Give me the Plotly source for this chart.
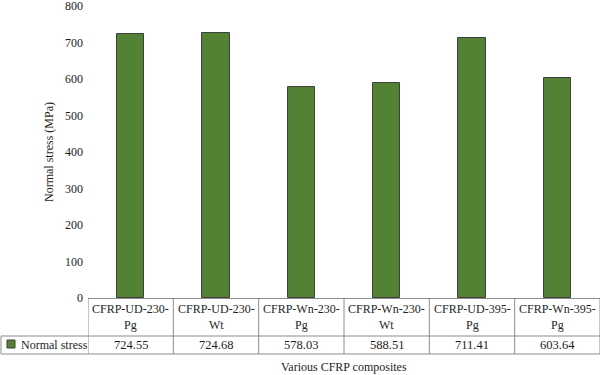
import plotly.graph_objects as go

categories = ["CFRP-UD-230-Pg", "CFRP-UD-230-Wt", "CFRP-Wn-230-Pg",
              "CFRP-Wn-230-Wt", "CFRP-UD-395-Pg", "CFRP-Wn-395-Pg"]
normal_stress = [724.55, 724.68, 578.03, 588.51, 711.41, 603.64]
series_name = "Normal stress"
y_ticks = [0, 100, 200, 300, 400, 500, 600, 700, 800]

W, H = 600, 375
ML, MR, MT, MB = 88, 0, 6, 77
PH = H - MT - MB  # plot height px


def py(pix):
    """pixel row -> paper y"""
    return (H - MB - pix) / PH


def px(pix):
    return (pix - ML) / (W - ML - MR)


FONT = "Liberation Serif"
GREEN = "#548235"
LINE = "#8c8c8c"
TXT = "#1e1e1e"

fig = go.Figure()
fig.add_trace(go.Bar(
    x=list(range(len(categories))), y=normal_stress, name=series_name,
    width=0.32, marker=dict(color=GREEN, line=dict(color="#3f3f3f", width=1)),
    showlegend=False,
))

row1_bot = py(336)
row2_bot = py(354)
shapes = []
# vertical lines of the data table
for i in range(len(categories) + 1):
    shapes.append(dict(type="line", xref="x", yref="paper", x0=i - 0.5, x1=i - 0.5,
                       y0=0, y1=row2_bot, line=dict(color=LINE, width=1)))
shapes.append(dict(type="line", xref="paper", yref="paper", x0=px(1), x1=px(1),
                   y0=row1_bot, y1=row2_bot, line=dict(color=LINE, width=1)))
for yy in (row1_bot, row2_bot):
    shapes.append(dict(type="line", xref="paper", yref="paper", x0=px(1), x1=1,
                       y0=yy, y1=yy, line=dict(color=LINE, width=1)))
# legend key
shapes.append(dict(type="rect", xref="paper", yref="paper", x0=px(7), x1=px(15),
                   y0=py(348), y1=py(340), fillcolor=GREEN,
                   line=dict(color="#3f3f3f", width=1)))

annotations = []
for i, (c, v) in enumerate(zip(categories, normal_stress)):
    head, tail = c.rsplit("-", 1)
    annotations.append(dict(x=i, y=py(317), xref="x", yref="paper",
                            text=f"{head}-<br>{tail}", showarrow=False,
                            font=dict(family=FONT, size=12, color=TXT),
                            yanchor="middle"))
    annotations.append(dict(x=i, y=py(345), xref="x", yref="paper",
                            text=f"{v:.2f}", showarrow=False,
                            font=dict(family=FONT, size=12.5, color=TXT),
                            yanchor="middle"))
annotations.append(dict(x=px(19), y=py(345), xref="paper", yref="paper",
                        text=series_name, showarrow=False, xanchor="left",
                        font=dict(family=FONT, size=12, color=TXT),
                        yanchor="middle"))
annotations.append(dict(x=0.5, y=py(367), xref="paper", yref="paper",
                        text="Various CFRP composites", showarrow=False,
                        font=dict(family=FONT, size=12, color=TXT),
                        yanchor="middle"))

fig.update_layout(
    width=W, height=H,
    margin=dict(l=ML, r=MR, t=MT, b=MB),
    paper_bgcolor="white", plot_bgcolor="white",
    font=dict(family=FONT, size=12, color=TXT),
    shapes=shapes, annotations=annotations,
    bargap=0,
)
fig.update_xaxes(range=[-0.5, len(categories) - 0.5], showticklabels=False,
                 showgrid=False, zeroline=False, showline=True,
                 linecolor=LINE, linewidth=1, ticks="")
fig.update_yaxes(range=[0, 800], tickvals=y_ticks, showgrid=False, zeroline=False,
                 showline=False, ticks="", tickfont=dict(family=FONT, size=12),
                 ticklabelstandoff=4, ticklabeloverflow="allow",
                 title=dict(text="Normal stress (MPa)", standoff=8,
                            font=dict(family=FONT, size=12)))

fig.write_html("out.html", config={"displayModeBar": False},
               post_script="document.body.style.margin='0';"
                           "document.body.style.overflow='hidden';")
